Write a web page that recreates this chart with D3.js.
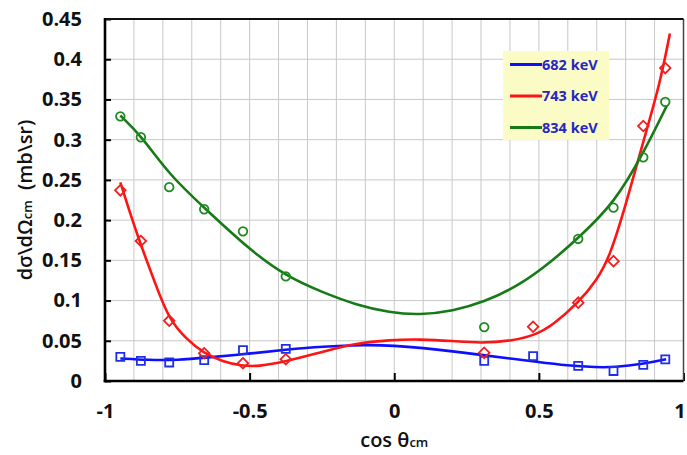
<!DOCTYPE html>
<html>
<head>
<meta charset="utf-8">
<script src="https://cdn.jsdelivr.net/npm/d3@7"></script>
<style>
  html, body { margin: 0; padding: 0; background: #fff; }
  svg { display: block; }
  text { font-family: "Open Sans", "DejaVu Sans", sans-serif; }
</style>
</head>
<body>
<svg id="chart" width="687" height="455"></svg>
<script>
// ---------- data ----------
const cosTheta = [-0.947, -0.876, -0.778, -0.657, -0.523, -0.375, 0.311, 0.48, 0.636, 0.758, 0.861, 0.937];

const xs682 = [0.030, 0.025, 0.023, 0.026, 0.0385, 0.040, 0.025, 0.031, 0.0187, 0.0124, 0.020, 0.027];
const xs743 = [0.237, 0.174, 0.075, 0.0345, 0.022, 0.027, 0.035, 0.0675, 0.0974, 0.149, 0.317, 0.389];
const xs834 = [0.329, 0.303, 0.241, 0.2135, 0.186, 0.130, 0.067, null, 0.1766, 0.2155, 0.278, 0.347];

// fitted curves, sampled along the drawn lines
const fitX682 = [-0.947, -0.85, -0.75, -0.65, -0.5, -0.375, -0.25, -0.1, 0, 0.1, 0.2, 0.31, 0.4, 0.487, 0.6, 0.7, 0.76, 0.86, 0.94];
const fitY682 = [0.028, 0.026, 0.026, 0.029, 0.034, 0.039, 0.043, 0.045, 0.044, 0.041, 0.037, 0.032, 0.028, 0.024, 0.019, 0.017, 0.017, 0.021, 0.027];

const fitX743 = [-0.947, -0.91, -0.877, -0.823, -0.779, -0.719, -0.658, -0.592, -0.53, -0.47, -0.375, -0.247, -0.131, -0.016, 0.088, 0.203, 0.30, 0.41, 0.487, 0.549, 0.635, 0.70, 0.746, 0.803, 0.861, 0.919, 0.953];
const fitY743 = [0.247, 0.205, 0.170, 0.118, 0.077, 0.052, 0.0344, 0.024, 0.019, 0.018, 0.024, 0.0365, 0.047, 0.051, 0.052, 0.0497, 0.047, 0.050, 0.057, 0.0696, 0.097, 0.125, 0.155, 0.222, 0.298, 0.370, 0.432];

const fitX834 = [-0.947, -0.875, -0.777, -0.656, -0.5, -0.373, -0.247, -0.131, -0.016, 0.088, 0.203, 0.31, 0.434, 0.549, 0.637, 0.761, 0.864, 0.942];
const fitY834 = [0.330, 0.305, 0.256, 0.215, 0.163, 0.130, 0.110, 0.0945, 0.085, 0.082, 0.087, 0.098, 0.119, 0.150, 0.178, 0.221, 0.285, 0.342];

const seriesNames = ["682 keV", "743 keV", "834 keV"];

const xTicks = [-1, -0.5, 0, 0.5, 1];
const xTickLabels = ["-1", "-0.5", "0", "0.5", "1"];
const yTicks = [0, 0.05, 0.1, 0.15, 0.2, 0.25, 0.3, 0.35, 0.4, 0.45];
const yTickLabels = ["0", "0.05", "0.1", "0.15", "0.2", "0.25", "0.3", "0.35", "0.4", "0.45"];
const xGrid = [-0.9, -0.8, -0.7, -0.6, -0.5, -0.4, -0.3, -0.2, -0.1, 0, 0.1, 0.2, 0.3, 0.4, 0.5, 0.6, 0.7, 0.8, 0.9];
const yGrid = [0.05, 0.1, 0.15, 0.2, 0.25, 0.3, 0.35, 0.4];

// ---------- layout ----------
const W = 687, H = 455;
const M = { l: 105, r: 3.5, t: 19, b: 74 };
const iW = W - M.l - M.r, iH = H - M.t - M.b;

const x = d3.scaleLinear().domain([-1, 1]).range([0, iW]);
const y = d3.scaleLinear().domain([0, 0.45]).range([iH, 0]);

const svg = d3.select("#chart");
const g = svg.append("g").attr("transform", `translate(${M.l},${M.t})`);

const styles = [
  { line: "#0f0fff", mark: "#1f2fe8", sym: d3.symbolSquare, size: 64, rot: 0 },
  { line: "#ff1414", mark: "#f02020", sym: d3.symbolSquare, size: 56, rot: 45 },
  { line: "#167a16", mark: "#1f8a1f", sym: d3.symbolCircle, size: 58, rot: 0 }
];

// grid
g.append("g").selectAll("line").data(xGrid).join("line")
  .attr("x1", d => x(d)).attr("x2", d => x(d))
  .attr("y1", 0).attr("y2", iH)
  .attr("stroke", "#c8c8c8").attr("stroke-width", 1);
g.append("g").selectAll("line").data(yGrid).join("line")
  .attr("x1", 0).attr("x2", iW)
  .attr("y1", d => y(d)).attr("y2", d => y(d))
  .attr("stroke", "#c8c8c8").attr("stroke-width", 1);

// legend box
const legend = g.append("g");
legend.append("rect")
  .attr("x", 398).attr("y", 32).attr("width", 106).attr("height", 89)
  .attr("fill", "#fbfbc6");
seriesNames.forEach((name, i) => {
  const ly = 45.5 + i * 31.5;
  legend.append("line")
    .attr("x1", 405).attr("x2", 437).attr("y1", ly).attr("y2", ly)
    .attr("stroke", styles[i].line).attr("stroke-width", 3);
  legend.append("text")
    .attr("x", 437).attr("y", ly).attr("dy", "0.36em")
    .attr("fill", "#2626c4").attr("font-size", 14.5).attr("font-weight", 700)
    .text(name);
});

// fitted curves
const fits = [[fitX682, fitY682], [fitX743, fitY743], [fitX834, fitY834]];
const line = d3.line().x(d => x(d[0])).y(d => y(d[1])).curve(d3.curveBasis);
fits.forEach(([fx, fy], i) => {
  g.append("path")
    .datum(fx.map((v, j) => [v, fy[j]]))
    .attr("d", line)
    .attr("fill", "none")
    .attr("stroke", styles[i].line)
    .attr("stroke-width", 2.6);
});

// data points
[xs682, xs743, xs834].forEach((vals, i) => {
  const st = styles[i];
  const pts = cosTheta.map((c, j) => [c, vals[j]]).filter(d => d[1] != null);
  g.append("g").selectAll("path").data(pts).join("path")
    .attr("d", d3.symbol().type(st.sym).size(st.size))
    .attr("transform", d => `translate(${x(d[0])},${y(d[1])}) rotate(${st.rot})`)
    .attr("fill", "none")
    .attr("stroke", st.mark)
    .attr("stroke-width", 1.8);
});

// axes
const yAxis = g.append("g")
  .call(d3.axisLeft(y).tickValues(yTicks).tickFormat((d, i) => yTickLabels[i])
    .tickSizeInner(-6).tickSizeOuter(0).tickPadding(23));
yAxis.select(".domain").remove();
yAxis.selectAll("line").attr("stroke", "#000").attr("stroke-width", 2);
yAxis.selectAll("text").attr("font-size", 20).attr("font-weight", 700).attr("fill", "#111");

const xAxis = g.append("g").attr("transform", `translate(0,${iH})`)
  .call(d3.axisBottom(x).tickValues(xTicks).tickFormat((d, i) => xTickLabels[i])
    .tickSizeInner(-8).tickSizeOuter(0).tickPadding(23));
xAxis.select(".domain").remove();
xAxis.selectAll("line").attr("stroke", "#000").attr("stroke-width", 2);
xAxis.selectAll("text").attr("font-size", 20).attr("font-weight", 700).attr("fill", "#111")
  .attr("dx", d => d === 1 ? -4 : 0);

// frame
g.append("line").attr("x1", iW).attr("x2", iW).attr("y1", 0).attr("y2", iH)
  .attr("stroke", "#444").attr("stroke-width", 1.5);
g.append("line").attr("x1", 0).attr("x2", iW).attr("y1", 0).attr("y2", 0)
  .attr("stroke", "#111").attr("stroke-width", 2);
g.append("line").attr("x1", 0).attr("x2", 0).attr("y1", -1).attr("y2", iH + 1.25)
  .attr("stroke", "#000").attr("stroke-width", 2.6);
g.append("line").attr("x1", -1.3).attr("x2", iW).attr("y1", iH).attr("y2", iH)
  .attr("stroke", "#000").attr("stroke-width", 2.6);

// axis titles
const xt = svg.append("text")
  .attr("x", M.l + x(0)).attr("y", 447)
  .attr("text-anchor", "middle").attr("font-size", 20).attr("font-weight", 600).attr("fill", "#111");
xt.append("tspan").text("cos θ");
xt.append("tspan").attr("font-size", 13).text("cm");

const yt = svg.append("text")
  .attr("transform", "translate(32,200) rotate(-90)")
  .attr("text-anchor", "middle").attr("font-size", 20).attr("font-weight", 600).attr("fill", "#111");
yt.append("tspan").text("dσ\\dΩ");
yt.append("tspan").attr("font-size", 13).text("cm");
yt.append("tspan").text("\u00a0\u00a0(mb\\sr)");
</script>
</body>
</html>
